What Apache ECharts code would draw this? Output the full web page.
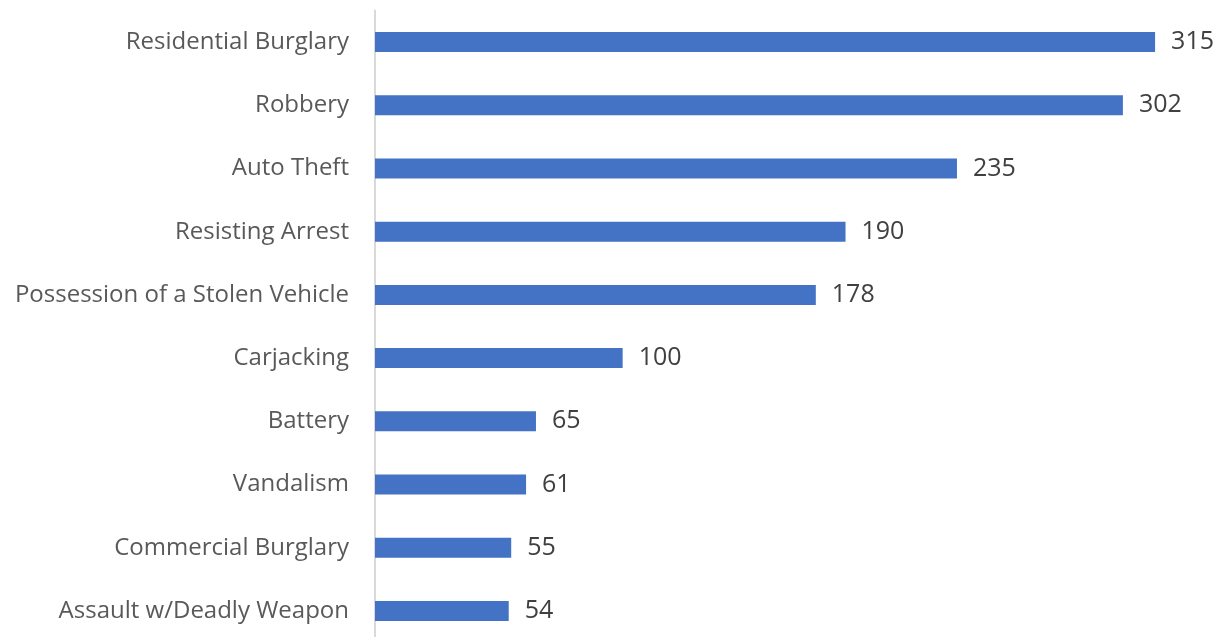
<!DOCTYPE html>
<html><head><meta charset="utf-8">
<script src="https://cdn.jsdelivr.net/npm/echarts@6/dist/echarts.min.js"></script>
<style>html,body{margin:0;padding:0;background:#fff}#c{width:1217px;height:637px}</style>
</head><body><div id="c"></div>
<script>
const categories = ["Residential Burglary","Robbery","Auto Theft","Resisting Arrest","Possession of a Stolen Vehicle","Carjacking","Battery","Vandalism","Commercial Burglary","Assault w/Deadly Weapon"];
const values = [315,302,235,190,178,100,65,61,55,54];

const chart = echarts.init(document.getElementById('c'));
chart.setOption({
  animation:false,
  grid:{left:375,right:0,top:10.5,height:632,containLabel:false,outerBoundsMode:'none'},
  xAxis:{type:'value',min:0,max:340,show:false},
  yAxis:{type:'category',inverse:true,data:categories,
    axisLine:{show:true,lineStyle:{color:'#d9d9d9',width:2}},
    axisTick:{show:false},
    axisLabel:{color:'#595959',fontSize:24,fontFamily:'Open Sans',margin:26}},
  series:[{type:'bar',data:values,barWidth:20,
    itemStyle:{color:'#4472C4'},
    label:{show:true,position:'right',distance:16,color:'#404040',fontSize:25,fontFamily:'Open Sans'}}]
});
</script></body></html>
